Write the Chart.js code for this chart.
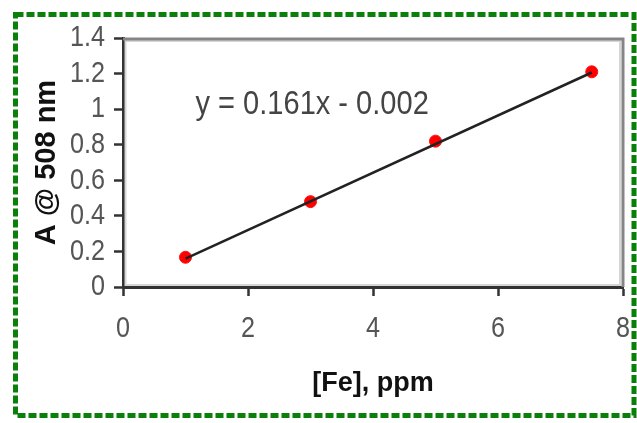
<!DOCTYPE html>
<html><head><meta charset="utf-8">
<script src="https://cdn.jsdelivr.net/npm/chart.js@4"></script>
<style>html,body{margin:0;padding:0;background:#fff;} canvas{display:block;}</style>
</head><body>
<canvas id="c" width="637" height="423"></canvas>
<script>
// ---- data ----
const concFe = [1, 3, 5, 7.5];
const absorbance = [0.167, 0.48, 0.82, 1.21];
const trendX = [1, 7.5];
const trendY = [0.159, 1.206];
const xTickLabels = ['0', '2', '4', '6', '8'];
const yTickLabels = ['0', '0.2', '0.4', '0.6', '0.8', '1', '1.2', '1.4'];
const equationText = 'y = 0.161x - 0.002';
const xTitle = '[Fe], ppm';
const yTitle = 'A @ 508 nm';

const SANS = "'Liberation Sans', Arial, sans-serif";

const canvas = document.getElementById('c');
const ctx0 = canvas.getContext('2d');
// tick labels in the reference are set in a condensed face: squeeze regular (non-bold) text horizontally
const origFillText = ctx0.fillText.bind(ctx0);
ctx0.fillText = function (text, x, y, maxWidth) {
  const squeeze = /bold/.test(ctx0.font) ? 1 : (ctx0.__squeeze || 0.84);
  if (squeeze === 1) return maxWidth === undefined ? origFillText(text, x, y) : origFillText(text, x, y, maxWidth);
  ctx0.save();
  ctx0.translate(x, y);
  ctx0.scale(squeeze, 1);
  if (maxWidth === undefined) origFillText(text, 0, 0); else origFillText(text, 0, 0, maxWidth / squeeze);
  ctx0.restore();
};

const decor = {
  id: 'decor',
  beforeDraw(chart) {
    const ctx = chart.ctx;
    ctx.save();
    ctx.fillStyle = '#ffffff';
    ctx.fillRect(0, 0, chart.width, chart.height);
    ctx.strokeStyle = '#0a7f0a';
    ctx.lineWidth = 5;
    ctx.setLineDash([8, 3]);
    ctx.strokeRect(15.5, 14.5, 618.5, 401);
    ctx.restore();
  },
  beforeDatasetsDraw(chart) {
    const ctx = chart.ctx, a = chart.chartArea;
    ctx.save();
    ctx.strokeStyle = '#d6d6d6';
    ctx.lineWidth = 2;
    ctx.strokeRect(a.left + 2.5, a.top + 3, a.right - a.left - 5.5, a.bottom - a.top - 5);
    ctx.strokeStyle = '#858585';
    ctx.lineWidth = 3;
    ctx.beginPath();
    ctx.moveTo(a.left, a.top + 1);
    ctx.lineTo(a.right, a.top + 1);
    ctx.lineTo(a.right, a.bottom);
    ctx.stroke();
    ctx.restore();
  },
  afterDatasetsDraw(chart) {
    const ctx = chart.ctx;
    const xs = chart.scales.x, ys = chart.scales.y;
    ctx.save();
    ctx.font = "33px " + SANS;
    ctx.fillStyle = '#444';
    ctx.textAlign = 'left';
    ctx.textBaseline = 'alphabetic';
    ctx.__squeeze = 0.88;
    ctx.fillText(equationText, xs.getPixelForValue(1.16), ys.getPixelForValue(0.975));
    ctx.__squeeze = 0.84;
    ctx.restore();
  }
};

new Chart(canvas, {
  type: 'scatter',
  data: {
    datasets: [
      {
        type: 'line',
        data: trendX.map((x, i) => ({x, y: trendY[i]})),
        borderColor: '#222',
        borderWidth: 2.5,
        pointRadius: 0,
        fill: false,
        order: 0
      },
      {
        type: 'scatter',
        data: concFe.map((x, i) => ({x, y: absorbance[i]})),
        backgroundColor: '#ff0000',
        borderColor: '#ff1010',
        borderWidth: 1,
        pointRadius: 6,
        order: 1
      }
    ]
  },
  options: {
    responsive: false,
    animation: false,
    devicePixelRatio: 1,
    layout: {padding: {left: 0, right: 14, top: 38, bottom: 0}},
    plugins: {legend: {display: false}, tooltip: {enabled: false}},
    scales: {
      x: {
        type: 'linear', min: 0, max: 8,
        ticks: {stepSize: 2, autoSkip: false, maxRotation: 0,
          callback: (v, i) => xTickLabels[i],
          font: {family: SANS, size: 30}, color: '#555', padding: 15},
        grid: {drawOnChartArea: false, tickLength: 9, tickWidth: 2.5, tickColor: '#333'},
        border: {color: '#333', width: 3},
        title: {display: true, text: xTitle, color: '#111',
          font: {family: SANS, size: 27, weight: 'bold'}, padding: {top: 0, bottom: 23}},
        afterFit: s => { s.height = 136; s.paddingLeft = 0; s.paddingRight = 0; }
      },
      y: {
        type: 'linear', min: 0, max: 1.4,
        ticks: {stepSize: 0.2, autoSkip: false,
          callback: (v, i) => yTickLabels[i],
          font: {family: SANS, size: 30}, color: '#555', padding: 9},
        grid: {drawOnChartArea: false, tickLength: 9, tickWidth: 2.5, tickColor: '#333'},
        border: {color: '#333', width: 3},
        title: {display: true, text: yTitle, color: '#111',
          font: {family: SANS, size: 29, weight: 'bold'}, padding: {top: 30, bottom: 0}},
        afterFit: s => { s.width = 123; s.paddingTop = 0; s.paddingBottom = 0; }
      }
    }
  },
  plugins: [decor]
});
</script>
</body></html>
